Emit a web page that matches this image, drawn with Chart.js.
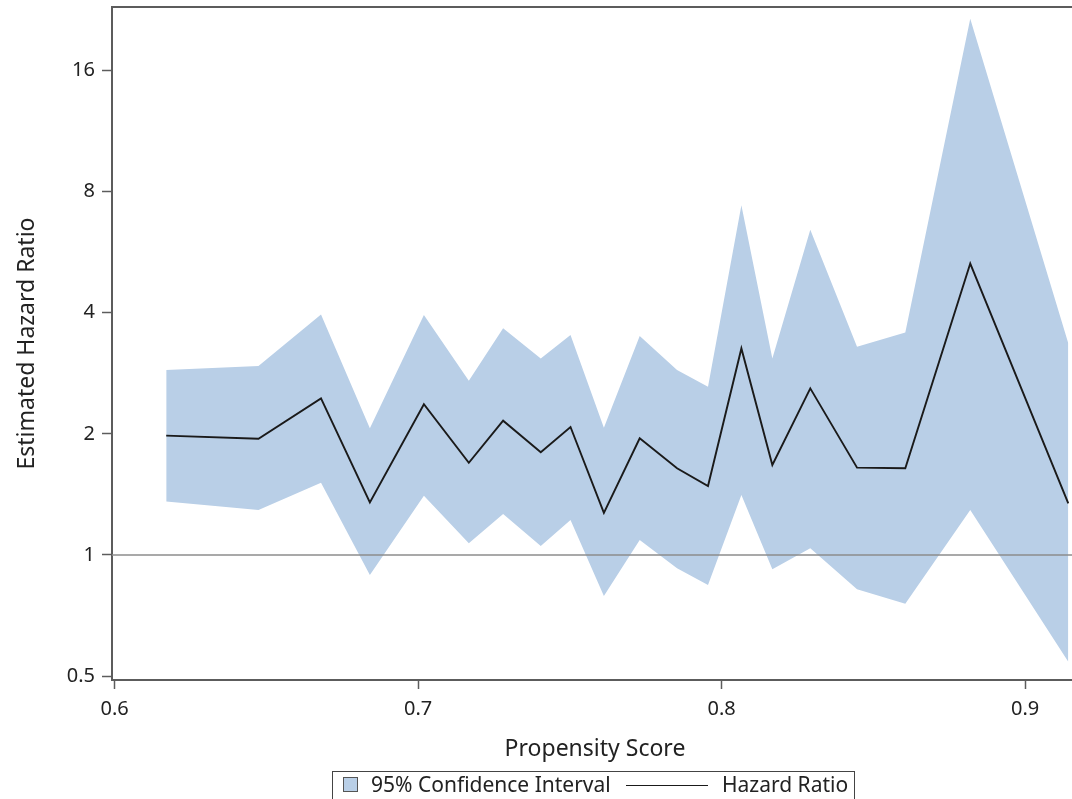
<!DOCTYPE html>
<html>
<head>
<meta charset="utf-8">
<script src="https://cdn.jsdelivr.net/npm/chart.js@4/dist/chart.umd.min.js"></script>
<style>
  html, body { margin: 0; padding: 0; background: #fff; overflow: hidden; }
  #wrap { position: relative; width: 1080px; height: 799px; }
  #legend { position: absolute; left: 332px; top: 771px; width: 523px; height: 40px;
            border: 1.5px solid #444; box-sizing: border-box; font-family: "Noto Sans", sans-serif;
            font-size: 21px; color: #222; }
  #legend .sw { position: absolute; left: 10px; top: 5px; width: 15px; height: 15px;
                background: #b9cfe7; border: 1px solid #555; box-sizing: border-box; }
  #legend .t1 { position: absolute; left: 38px; top: -2px; white-space: nowrap; line-height: 28px; }
  #legend .ln { position: absolute; left: 293px; top: 13px; width: 82px; height: 0; border-top: 1.8px solid #1a1a1a; }
  #legend .t2 { position: absolute; left: 389px; top: -2px; white-space: nowrap; line-height: 28px; }
</style>
</head>
<body>
<div id="wrap">
  <canvas id="c"></canvas>
  <div id="legend"><span class="sw"></span><span class="t1">95% Confidence Interval</span><span class="ln"></span><span class="t2">Hazard Ratio</span></div>
</div>
<script>
// ---- data ----
const propensity = [0.6170, 0.6474, 0.6680, 0.6841, 0.7019, 0.7167, 0.7280, 0.7404, 0.7502, 0.7612,
                    0.7730, 0.7853, 0.7955, 0.8065, 0.8167, 0.8292, 0.8446, 0.8605, 0.8819, 0.9142];
const hazardRatio = [1.98, 1.945, 2.45, 1.35, 2.37, 1.695, 2.156, 1.80, 2.08, 1.272,
                     1.949, 1.642, 1.484, 3.26, 1.673, 2.594, 1.648, 1.642, 5.30, 1.344];
const ciUpper = [2.88, 2.95, 3.96, 2.064, 3.95, 2.71, 3.66, 3.08, 3.52, 2.07,
                 3.50, 2.88, 2.62, 7.40, 3.08, 6.43, 3.29, 3.57, 21.5, 3.36];
const ciLower = [1.357, 1.294, 1.512, 0.892, 1.404, 1.069, 1.264, 1.053, 1.222, 0.791,
                 1.09, 0.927, 0.842, 1.41, 0.921, 1.039, 0.822, 0.756, 1.294, 0.543];
const xTickValues = [0.6, 0.7, 0.8, 0.9];
const yTickValues = [0.5, 1, 2, 4, 8, 16];
const referenceValue = 1;
const xRange = [0.59914, 0.9174];
const yRange = [0.489, 23.0];

const pts = (ys) => propensity.map((x, i) => ({ x: x, y: ys[i] }));
const FONT = '"Noto Sans", sans-serif';
const TEXT = '#222';
const AXIS = '#5c5c5c';

const refLine = {
  id: 'refLine',
  afterDatasetsDraw(chart) {
    const { ctx, chartArea, scales } = chart;
    const y = scales.y.getPixelForValue(referenceValue);
    ctx.save();
    ctx.strokeStyle = '#8c8c8c';
    ctx.lineWidth = 1.5;
    ctx.beginPath();
    ctx.moveTo(chartArea.left, y);
    ctx.lineTo(chartArea.right, y);
    ctx.stroke();
    ctx.restore();
  }
};
const frame = {
  id: 'frame',
  afterDraw(chart) {
    const { ctx, chartArea } = chart;
    ctx.save();
    ctx.strokeStyle = AXIS;
    ctx.lineWidth = 2;
    ctx.beginPath();
    ctx.moveTo(chartArea.left, chartArea.top);
    ctx.lineTo(chartArea.right, chartArea.top);
    ctx.lineTo(chartArea.right, chartArea.bottom);
    ctx.stroke();
    ctx.restore();
  }
};

new Chart(document.getElementById('c'), {
  type: 'line',
  data: {
    datasets: [
      { label: 'Hazard Ratio', data: pts(hazardRatio), borderColor: '#1a1a1a', borderWidth: 1.9,
        pointRadius: 0, fill: false, tension: 0 },
      { label: '95% Confidence Interval', data: pts(ciUpper), borderWidth: 0, borderColor: 'rgba(0,0,0,0)',
        backgroundColor: '#b9cfe7', pointRadius: 0, fill: '+1', tension: 0 },
      { label: 'lower', data: pts(ciLower), borderWidth: 0, borderColor: 'rgba(0,0,0,0)',
        pointRadius: 0, fill: false, tension: 0 }
    ]
  },
  options: {
    responsive: true,
    maintainAspectRatio: false,
    animation: false,
    events: [],
    layout: { padding: { top: 7, right: 2, left: 0, bottom: 0 } },
    plugins: { legend: { display: false }, tooltip: { enabled: false } },
    scales: {
      x: {
        type: 'linear',
        min: xRange[0], max: xRange[1],
        afterBuildTicks: (s) => { s.ticks = xTickValues.map(v => ({ value: v })); },
        afterFit: (s) => { s.height = 119; },
        ticks: { callback: (v) => Number(v).toFixed(1), font: { family: FONT, size: 20 }, color: TEXT, padding: 8, maxRotation: 0, autoSkip: false },
        grid: { drawOnChartArea: false, drawTicks: true, tickLength: 9, tickColor: AXIS, tickWidth: 1.5 },
        border: { color: AXIS, width: 2 },
        title: { display: true, text: 'Propensity Score', font: { family: FONT, size: 23 }, color: TEXT,
                 padding: { top: 4, bottom: 36 } }
      },
      y: {
        type: 'logarithmic',
        min: yRange[0], max: yRange[1],
        afterBuildTicks: (s) => { s.ticks = yTickValues.map(v => ({ value: v })); },
        afterFit: (s) => { s.width = 112; s.paddingTop = 0; s.paddingBottom = 0; },
        ticks: { callback: (v) => String(v), font: { family: FONT, size: 20, lineHeight: 0.6 }, color: TEXT, padding: 7, autoSkip: false },
        grid: { drawOnChartArea: false, drawTicks: true, tickLength: 10, tickColor: AXIS, tickWidth: 1.5 },
        border: { color: AXIS, width: 2 },
        title: { display: true, text: 'Estimated Hazard Ratio', font: { family: FONT, size: 23 }, color: TEXT,
                 padding: { top: 14, bottom: 4 } }
      }
    }
  },
  plugins: [refLine, frame]
});
</script>
</body>
</html>
